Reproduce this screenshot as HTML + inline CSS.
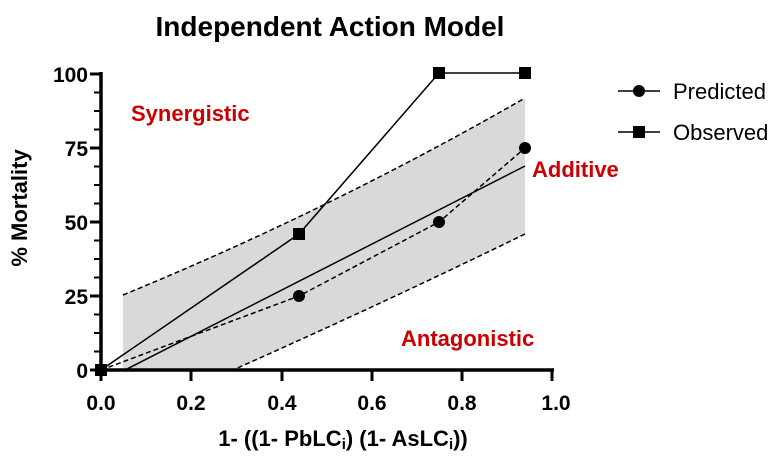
<!DOCTYPE html>
<html><head><style>body{margin:0;background:#fff}</style></head><body>
<svg width="780" height="453" xmlns="http://www.w3.org/2000/svg" font-family="Liberation Sans, Arial, sans-serif">
<rect width="780" height="453" fill="#fff"/>
<text x="330" y="36" font-size="28" font-weight="bold" text-anchor="middle">Independent Action Model</text>
<path d="M123,295 Q330,210 525,98 L525,234 Q390,300 233,370 L123,370 Z" fill="#d9d9d9"/>
<path d="M123,295 Q330,210 525,98" fill="none" stroke="#000" stroke-width="1.5" stroke-dasharray="5,3"/>
<path d="M525,234 Q390,300 233,370" fill="none" stroke="#000" stroke-width="1.5" stroke-dasharray="5,3"/>
<line x1="125" y1="370" x2="525" y2="166" stroke="#000" stroke-width="1.5"/>
<polyline points="101,370 299,296 439,222 525,148" fill="none" stroke="#000" stroke-width="1.5" stroke-dasharray="5,3"/>
<polyline points="101,370 299,234 439,73 525,73" fill="none" stroke="#000" stroke-width="1.5"/>
<g fill="#000">
<circle cx="299" cy="296" r="6"/><circle cx="439" cy="222" r="6"/><circle cx="525" cy="148" r="6"/>
<rect x="95" y="364" width="12" height="12"/><rect x="293" y="228" width="12" height="12"/><rect x="433" y="67" width="12" height="12"/><rect x="519" y="67" width="12" height="12"/>
</g>
<g stroke="#000" stroke-width="3.5">
<line x1="101" y1="72" x2="101" y2="372"/>
<line x1="99" y1="370" x2="554" y2="370"/>
</g>
<g stroke="#000" stroke-width="3">
<line x1="90" y1="74" x2="101" y2="74"/><line x1="90" y1="148" x2="101" y2="148"/><line x1="90" y1="222" x2="101" y2="222"/><line x1="90" y1="296" x2="101" y2="296"/><line x1="90" y1="370" x2="101" y2="370"/>
<line x1="101" y1="370" x2="101" y2="381"/><line x1="191" y1="370" x2="191" y2="381"/><line x1="282" y1="370" x2="282" y2="381"/><line x1="372" y1="370" x2="372" y2="381"/><line x1="462" y1="370" x2="462" y2="381"/><line x1="552" y1="370" x2="552" y2="381"/>
</g>
<g stroke="#000" stroke-width="2">
<line x1="94" y1="111" x2="101" y2="111"/><line x1="94" y1="185" x2="101" y2="185"/><line x1="94" y1="259" x2="101" y2="259"/><line x1="94" y1="333" x2="101" y2="333"/>
<line x1="94" y1="92.5" x2="101" y2="92.5"/><line x1="94" y1="129.5" x2="101" y2="129.5"/><line x1="94" y1="166.5" x2="101" y2="166.5"/><line x1="94" y1="203.5" x2="101" y2="203.5"/><line x1="94" y1="240.5" x2="101" y2="240.5"/><line x1="94" y1="277.5" x2="101" y2="277.5"/><line x1="94" y1="314.5" x2="101" y2="314.5"/><line x1="94" y1="351.5" x2="101" y2="351.5"/>
</g>
<g font-size="21" font-weight="bold" text-anchor="end">
<text x="88" y="82">100</text><text x="88" y="156">75</text><text x="88" y="230">50</text><text x="88" y="304">25</text><text x="88" y="378">0</text>
</g>
<g font-size="21" font-weight="bold" text-anchor="middle">
<text x="101" y="410">0.0</text><text x="191" y="410">0.2</text><text x="282" y="410">0.4</text><text x="372" y="410">0.6</text><text x="462" y="410">0.8</text><text x="556" y="410">1.0</text>
</g>
<text x="343" y="446" font-size="22" font-weight="bold" text-anchor="middle">1- ((1- PbLC<tspan font-size="15" dy="3">i</tspan><tspan dy="-3">) (1- AsLC</tspan><tspan font-size="15" dy="3">i</tspan><tspan dy="-3">))</tspan></text>
<text transform="translate(27,208) rotate(-90)" font-size="22" font-weight="bold" text-anchor="middle">% Mortality</text>
<g fill="#cc0000" font-size="22" font-weight="bold">
<text x="131" y="121">Synergistic</text><text x="532" y="177">Additive</text><text x="401" y="346">Antagonistic</text>
</g>
<line x1="618" y1="91" x2="660" y2="91" stroke="#000" stroke-width="1.5"/><circle cx="639" cy="91" r="6"/>
<line x1="618" y1="132" x2="660" y2="132" stroke="#000" stroke-width="1.5"/><rect x="633" y="126" width="12" height="12"/>
<g font-size="22"><text x="673" y="99">Predicted</text><text x="673" y="140">Observed</text></g>
</svg>
</body></html>
